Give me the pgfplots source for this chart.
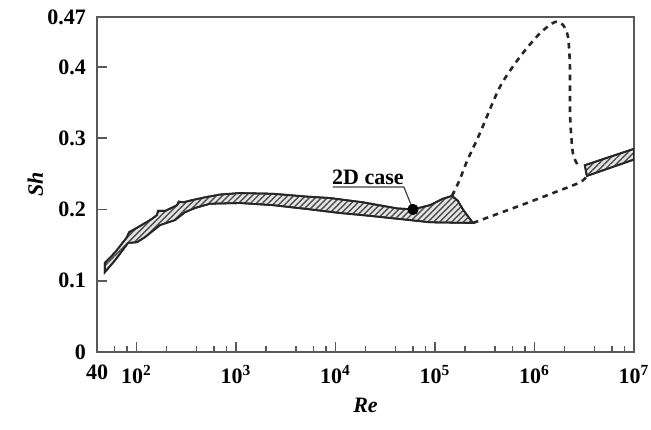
\documentclass[border=0pt]{standalone}
\usepackage{pgfplots}
\pgfplotsset{compat=1.18}
\usepackage{fontspec}
\setmainfont{Liberation Serif}
\usetikzlibrary{patterns.meta,calc}
\begin{document}
\begin{tikzpicture}
\begin{axis}[
  name=ax,
  scale only axis, width=268.5pt, height=167.5pt,
  xmode=log, xmin=40, xmax=1e7, ymin=0, ymax=0.47,
  axis line style={black!65, line width=0.9pt},
  tick style={black!65, line width=0.8pt},
  tick align=inside, tick pos=left,
  major tick length=5pt, minor tick length=3.2pt,
  xtick={40,100,1000,10000,100000,1000000,10000000},
  xticklabels={40,10\textsuperscript{2},10\textsuperscript{3},10\textsuperscript{4},10\textsuperscript{5},10\textsuperscript{6},10\textsuperscript{7}},
  minor xtick={60,80,200,400,600,800,2000,4000,6000,8000,20000,40000,60000,80000,200000,400000,600000,800000,2000000,4000000,6000000,8000000},
  ytick={0,0.1,0.2,0.3,0.4,0.47},
  yticklabels={0\hspace{5pt},0.1,0.2,0.3,0.4,0.47},
  ticklabel style={font=\bfseries\fontsize{11}{13}\selectfont},
  xticklabel style={yshift=-3pt},
  yticklabel style={xshift=-2pt},
  /pgf/number format/assume math mode=true,
  xlabel={\bfseries\itshape Re},
  ylabel={\bfseries\itshape Sh},
  label style={font=\bfseries\itshape\fontsize{11}{13}\selectfont},
  xlabel style={at={(axis description cs:0.5,-0.159)}, anchor=center},
  ylabel style={at={(axis description cs:-0.115,0.5)}, anchor=center},
]
% main hatched band
\addplot[draw=black!85, line width=0.9pt, preaction={fill=gray!20},
  pattern={Lines[angle=45,distance=2.1pt,line width=0.7pt]}, pattern color=black!70]
coordinates {
 (48,0.125) (61,0.140) (80,0.161) (84,0.168) (103,0.175) (140,0.186) (160,0.192)
 (164,0.198) (195,0.198) (255,0.206) (265,0.211) (295,0.210) (360,0.213) (487,0.217)
 (700,0.221) (1094,0.223) (2349,0.222) (5160,0.218) (8790,0.216) (18850,0.210)
 (41400,0.2015) (60000,0.200) (88900,0.206) (120000,0.215) (148000,0.219)
 (170000,0.212) (190700,0.200) (215000,0.190) (240400,0.181)
 (88900,0.182) (41400,0.187) (18850,0.192) (11070,0.195) (5160,0.2006)
 (2349,0.206) (1094,0.209) (547,0.208) (386,0.202) (306,0.196) (243,0.185)
 (172,0.178) (121,0.161) (101,0.154) (82,0.153) (61,0.129) (48,0.112)
} -- cycle;
% right hatched band
\addplot[draw=black!85, line width=0.9pt, preaction={fill=gray!20},
  pattern={Lines[angle=45,distance=2.1pt,line width=0.7pt]}, pattern color=black!70]
coordinates {(3200000,0.262) (10000000,0.285) (10000000,0.270) (3360000,0.247)} -- cycle;
% dashed upper branch
\addplot[smooth, tension=0.45, black!85, line width=1.3pt, dash pattern=on 2.8pt off 2.5pt]
coordinates {
 (148000,0.219) (175000,0.240) (210000,0.268) (282600,0.307) (449000,0.372)
 (713000,0.414) (1130000,0.447) (1600000,0.463) (1930000,0.459) (2170000,0.442)
 (2270000,0.400) (2280000,0.330) (2430000,0.279) (2730000,0.262)
};
% dashed lower branch
\addplot[smooth, black!85, line width=1.3pt, dash pattern=on 2.8pt off 2.5pt]
coordinates {
 (240400,0.181) (449000,0.195) (838000,0.209) (1530000,0.223) (2860000,0.238) (3360000,0.247)
};
% 2D case point
\addplot[only marks, mark=*, mark size=2.6pt, black] coordinates {(60000,0.200)};
\draw[black!75, line width=0.6pt] (axis cs:9420,0.2314) -- (axis cs:48600,0.2314) -- (axis cs:60000,0.200);
\node[anchor=south, inner sep=1pt, font=\bfseries\fontsize{11}{13}\selectfont] at (axis cs:21180,0.2314) {2D case};
\end{axis}
\pgfresetboundingbox
\path ($(ax.south west)+(-48.5pt,-39pt)$) rectangle ($(ax.north east)+(8.5pt,8.5pt)$);
\end{tikzpicture}
\end{document}
